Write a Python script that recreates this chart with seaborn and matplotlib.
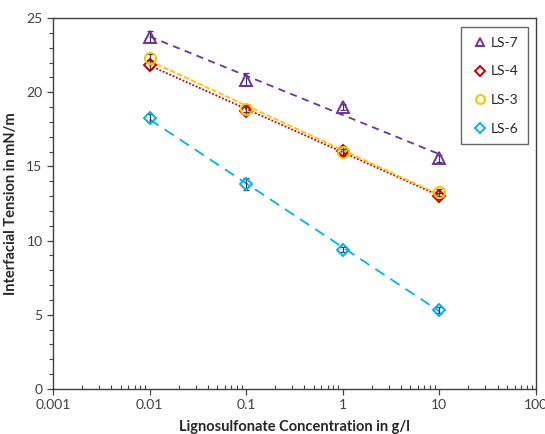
import matplotlib
matplotlib.use("Agg")
import matplotlib.pyplot as plt
import seaborn as sns
import numpy as np
import pandas as pd
from matplotlib.ticker import LogLocator, FixedLocator, MultipleLocator, FuncFormatter
from matplotlib.lines import Line2D

conc = [0.01, 0.1, 1, 10]
series_names = ["LS-7", "LS-4", "LS-3", "LS-6"]
ls7 = [23.75, 20.85, 19.0, 15.55]
ls4 = [21.85, 18.75, 16.05, 13.0]
ls3 = [22.3, 18.9, 15.95, 13.25]
ls6 = [18.25, 13.8, 9.4, 5.35]
err7 = [0.35, 0.45, 0.2, 0.25]
err4 = [0.3, 0.25, 0.3, 0.2]
err3 = [0.3, 0.25, 0.25, 0.25]
err6 = [0.25, 0.4, 0.2, 0.2]

colors = {"LS-7": "#7030A0", "LS-4": "#C00000", "LS-3": "#FFC000", "LS-6": "#00B0F0"}
markers = {"LS-7": "^", "LS-4": "D", "LS-3": "o", "LS-6": "D"}
msizes = {"LS-7": 8, "LS-4": 6.5, "LS-3": 8, "LS-6": 6.5}
linestyles = {"LS-7": (0, (4, 3)), "LS-4": (0, (1, 1)), "LS-3": (0, (3, 1.2)), "LS-6": (0, (6, 4))}

values = {"LS-7": ls7, "LS-4": ls4, "LS-3": ls3, "LS-6": ls6}
errors = {"LS-7": err7, "LS-4": err4, "LS-3": err3, "LS-6": err6}

sns.set_style("white")
plt.rcParams['font.family'] = ['Lato', 'DejaVu Sans']

fig = plt.figure(figsize=(5.45, 4.34), dpi=100)
ax = fig.add_axes([53/545, 1-389/434, (536-53)/545, (389-18)/434])
ax.set_xscale("log")

handles = []
for name in series_names:
    df = pd.DataFrame({"x": conc, "y": values[name]})
    sns.regplot(data=df, x="x", y="y", logx=True, ci=None, scatter=False, ax=ax,
                line_kws=dict(color=colors[name], linestyle=linestyles[name], lw=1.3))
    ax.errorbar(conc, values[name], yerr=errors[name], fmt="none", ecolor="#404040",
                elinewidth=0.9, capsize=2.5, capthick=0.9, zorder=3)
    ax.plot(conc, values[name], linestyle="none", marker=markers[name], ms=msizes[name],
            mfc="none", mec=colors[name], mew=1.4, zorder=4)
    handles.append(Line2D([], [], linestyle="none", marker=markers[name], ms=msizes[name]*0.8,
                          mfc="none", mec=colors[name], mew=1.4, label=name))

ax.set_xlim(0.001, 100)
ax.set_ylim(0, 25)
ax.yaxis.set_major_locator(MultipleLocator(5))
ax.yaxis.set_minor_locator(MultipleLocator(1))
ax.xaxis.set_major_locator(FixedLocator([0.001, 0.01, 0.1, 1, 10, 100]))
ax.xaxis.set_minor_locator(LogLocator(base=10, subs=np.arange(2, 10)))
ax.xaxis.set_major_formatter(FuncFormatter(lambda v, p: f"{v:g}"))
ax.xaxis.set_minor_formatter(FuncFormatter(lambda v, p: ""))

for s in ax.spines.values():
    s.set_color("#404040")
    s.set_linewidth(1.0)
ax.tick_params(axis="both", which="major", direction="out", length=4, width=0.9,
               color="#404040", labelsize=10, labelcolor="#404040", bottom=True, left=True)
ax.tick_params(axis="y", which="minor", direction="out", length=3, width=0.8, color="#404040", left=True)
ax.tick_params(axis="x", which="minor", direction="in", length=3, width=0.8, color="#404040", bottom=True)

ax.set_xlabel("Lignosulfonate Concentration in g/l", fontsize=10.5, fontweight="bold", labelpad=6)
ax.set_ylabel("Interfacial Tension in mN/m", fontsize=10.5, fontweight="bold", labelpad=6)

leg = ax.legend(handles=handles, loc="upper right", bbox_to_anchor=((528-53)/483, 1-(27-18)/371),
                borderaxespad=0, frameon=True,
                fancybox=False, edgecolor="#404040", fontsize=10, labelspacing=1.2,
                handletextpad=0.1, borderpad=0.7, handlelength=1.3)
leg.get_frame().set_linewidth(1.0)

fig.savefig("out.png", dpi=100)
